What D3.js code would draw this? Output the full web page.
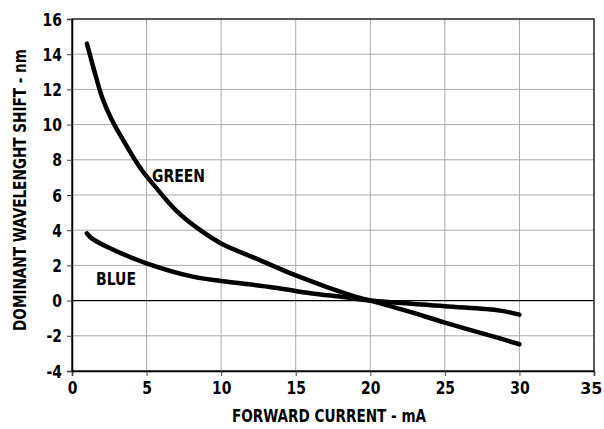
<!DOCTYPE html>
<html>
<head>
<meta charset="utf-8">
<script src="https://cdn.jsdelivr.net/npm/d3@7"></script>
<style>
  body { margin: 0; background: #fff; }
  svg text { font-family: "DejaVu Sans", sans-serif; font-weight: bold; fill: #000; }
</style>
</head>
<body>
<svg id="chart" width="604" height="429"></svg>
<script>
// data
var green_x = [1, 1.45, 2, 2.65, 3.65, 4.65, 5.7, 7, 8.6, 10, 12.6, 14.8, 17, 19.3, 20, 22.5, 25, 28.7, 30];
var green_y = [14.6, 13.2, 11.6, 10.3, 8.8, 7.45, 6.35, 5.1, 4.0, 3.25, 2.3, 1.5, 0.8, 0.15, 0, -0.6, -1.25, -2.15, -2.48];
var blue_x = [1, 1.3, 2.55, 5, 8.1, 10, 13.5, 16, 18.2, 20, 25, 28.7, 30];
var blue_y = [3.82, 3.55, 2.97, 2.12, 1.36, 1.11, 0.75, 0.42, 0.2, 0, -0.32, -0.57, -0.8];
var x_ticks = [0, 5, 10, 15, 20, 25, 30, 35];
var y_ticks = [-4, -2, 0, 2, 4, 6, 8, 10, 12, 14, 16];

var svg = d3.select("#chart");
var plot = {left: 72, right: 594, top: 19, bottom: 371};

var x = d3.scaleLinear().domain([0, 35]).range([plot.left, plot.right]);
var y = d3.scaleLinear().domain([-4, 16]).range([plot.bottom, plot.top]);

// squeeze text horizontally (no condensed face installed)
function narrow(sel, k){
	sel.each(function(){
		var w = this.getComputedTextLength();
		d3.select(this).attr("textLength", w * k).attr("lengthAdjust", "spacingAndGlyphs");
	});
}

// grid
var grid = svg.append("g");
grid.selectAll("line.gx").data(x_ticks.slice(1, -1)).enter().append("line")
	.attr("x1", d => x(d)).attr("x2", d => x(d))
	.attr("y1", plot.top).attr("y2", plot.bottom)
	.attr("stroke", "#aaa").attr("stroke-width", 1);
grid.selectAll("line.gy").data(y_ticks.slice(1, -1).filter(d => d != 0)).enter().append("line")
	.attr("x1", plot.left).attr("x2", plot.right)
	.attr("y1", d => y(d)).attr("y2", d => y(d))
	.attr("stroke", "#aaa").attr("stroke-width", 1);
// zero line
svg.append("line")
	.attr("x1", plot.left).attr("x2", plot.right)
	.attr("y1", y(0)).attr("y2", y(0))
	.attr("stroke", "#000").attr("stroke-width", 1.2);

// frame
svg.append("rect")
	.attr("x", plot.left).attr("y", plot.top)
	.attr("width", plot.right - plot.left).attr("height", plot.bottom - plot.top)
	.attr("fill", "none").attr("stroke", "#222").attr("stroke-width", 1.5);

// axes
var fmt = d => String(d);
var xAxis = svg.append("g")
	.attr("transform", "translate(0," + plot.bottom + ")")
	.call(d3.axisBottom(x).tickValues(x_ticks).tickFormat(fmt).tickSize(5).tickPadding(4));
var yAxis = svg.append("g")
	.attr("transform", "translate(" + plot.left + ",0)")
	.call(d3.axisLeft(y).tickValues(y_ticks).tickFormat(fmt).tickSize(5).tickPadding(5));
[xAxis, yAxis].forEach(function(a){
	a.select(".domain").attr("stroke", "#000").attr("stroke-width", 1.5);
	a.selectAll(".tick line").attr("stroke", "#444");
	a.selectAll("text").attr("font-size", 17).attr("font-family", null);
	narrow(a.selectAll("text"), 0.82);
});
xAxis.selectAll("text").attr("dy", "0.85em");
yAxis.selectAll("text").attr("dy", "0.36em");
// last x label sits at the page edge
xAxis.selectAll("text").filter(d => d == 35)
	.attr("textLength", null).attr("lengthAdjust", null)
	.attr("font-size", 16).attr("text-anchor", "end").attr("x", 8);

// curves
var line = d3.line().x(d => x(d[0])).y(d => y(d[1])).curve(d3.curveCatmullRom.alpha(0.5));
var green = green_x.map((v, i) => [v, green_y[i]]);
var blue = blue_x.map((v, i) => [v, blue_y[i]]);
[green, blue].forEach(function(s){
	svg.append("path").datum(s)
		.attr("d", line)
		.attr("fill", "none").attr("stroke", "#000")
		.attr("stroke-width", 4.5).attr("stroke-linecap", "round").attr("stroke-linejoin", "round");
});

// series labels
svg.append("text").attr("transform", "translate(152,182) scale(0.8,1)").attr("font-size", 17.5).text("GREEN");
svg.append("text").attr("transform", "translate(96,285) scale(0.8,1)").attr("font-size", 17.5).text("BLUE");

// axis titles
svg.append("text").attr("transform", "translate(329,422) scale(0.8,1)").attr("text-anchor", "middle")
	.attr("font-size", 17).text("FORWARD CURRENT - mA");
svg.append("text").attr("transform", "translate(26,190) rotate(-90) scale(0.8,1)").attr("text-anchor", "middle")
	.attr("font-size", 17).text("DOMINANT WAVELENGHT  SHIFT - nm");
</script>
</body>
</html>
